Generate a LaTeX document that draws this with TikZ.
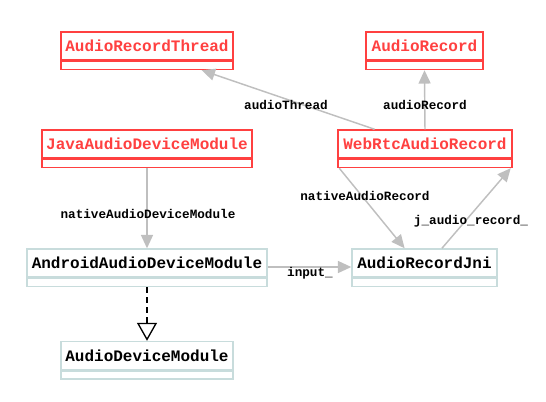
\documentclass[tikz,border=0pt]{standalone}
\usepackage{fontspec}
\setmonofont{Liberation Mono}
\usetikzlibrary{arrows.meta,positioning}
\definecolor{clsred}{RGB}{255,64,64}
\definecolor{clsgrey}{RGB}{200,220,220}
\definecolor{edgegrey}{RGB}{191,191,191}

\begin{document}
\begin{tikzpicture}[x=0.75pt, y=-0.75pt,
  cls/.style={draw, line width=1.1pt, inner sep=0pt, minimum width=#1,
    minimum height=21pt, font=\ttfamily\bfseries\fontsize{12}{14}\selectfont},
  clsfoot/.style={draw, line width=1.1pt, inner sep=0pt, minimum width=#1,
    minimum height=6pt},
  ref/.style={clsred, text=clsred},
  plain/.style={clsgrey, text=black},
  edge/.style={draw=edgegrey, line width=1.1pt,
    -{Triangle[length=10pt, width=9pt, fill=edgegrey]}},
  inherit/.style={draw=black, line width=1.4pt, dash pattern=on 4.5pt off 3pt,
    -{Triangle[open, length=13.5pt, width=15pt, fill=white, line width=1pt]}},
  lbl/.style={font=\ttfamily\bfseries\fontsize{9.5}{11}\selectfont, inner sep=1pt}
]
  \useasboundingbox (0,0) rectangle (546,401);

  % classes
  \node[cls=129pt, ref] (thread) at (147,46) {AudioRecordThread};
  \node[clsfoot=129pt, ref, below=0pt of thread] (threadf) {};
  \node[cls=87.75pt, ref] (rec) at (424.5,46) {AudioRecord};
  \node[clsfoot=87.75pt, ref, below=0pt of rec] (recf) {};
  \node[cls=157.5pt, ref] (java) at (147,144) {JavaAudioDeviceModule};
  \node[clsfoot=157.5pt, ref, below=0pt of java] (javaf) {};
  \node[cls=130.5pt, ref] (web) at (425,144) {WebRtcAudioRecord};
  \node[clsfoot=130.5pt, ref, below=0pt of web] (webf) {};
  \node[cls=180pt, plain] (android) at (147,263) {AndroidAudioDeviceModule};
  \node[clsfoot=180pt, plain, below=0pt of android] (androidf) {};
  \node[cls=108.75pt, plain] (jni) at (424.5,263) {AudioRecordJni};
  \node[clsfoot=108.75pt, plain, below=0pt of jni] (jnif) {};
  \node[cls=129pt, plain] (adm) at (147,355.5) {AudioDeviceModule};
  \node[clsfoot=129pt, plain, below=0pt of adm] (admf) {};

  % usage edges
  \draw[edge] ([xshift=28pt]web.north west) -- ([xshift=41pt]threadf.south);
  \draw[edge] (web.north) -- (recf.south);
  \draw[edge] (javaf.south) -- (android.north);
  \draw[edge] ([xshift=1.5pt]webf.south west) -- ([xshift=40pt]jni.north west);
  \draw[edge] ([xshift=68pt]jni.north west) -- ([xshift=-1.5pt]webf.south east);
  \draw[edge] ([yshift=-3pt]android.east) -- ([yshift=-3pt]jni.west);

  % inheritance
  \draw[inherit] (androidf.south) -- (adm.north);

  % edge labels
  \node[lbl] (lthread) at (286,105) {audioThread};
  \node[lbl] (lrec) at (425,105) {audioRecord};
  \node[lbl] (ljava) at (148,214) {nativeAudioDeviceModule};
  \node[lbl] (lnative) at (365,196) {nativeAudioRecord};
  \node[lbl] (ljrec) at (471,221) {j\_audio\_record\_};
  \node[lbl] (linput) at (310,273) {input\_};
\end{tikzpicture}
\end{document}
